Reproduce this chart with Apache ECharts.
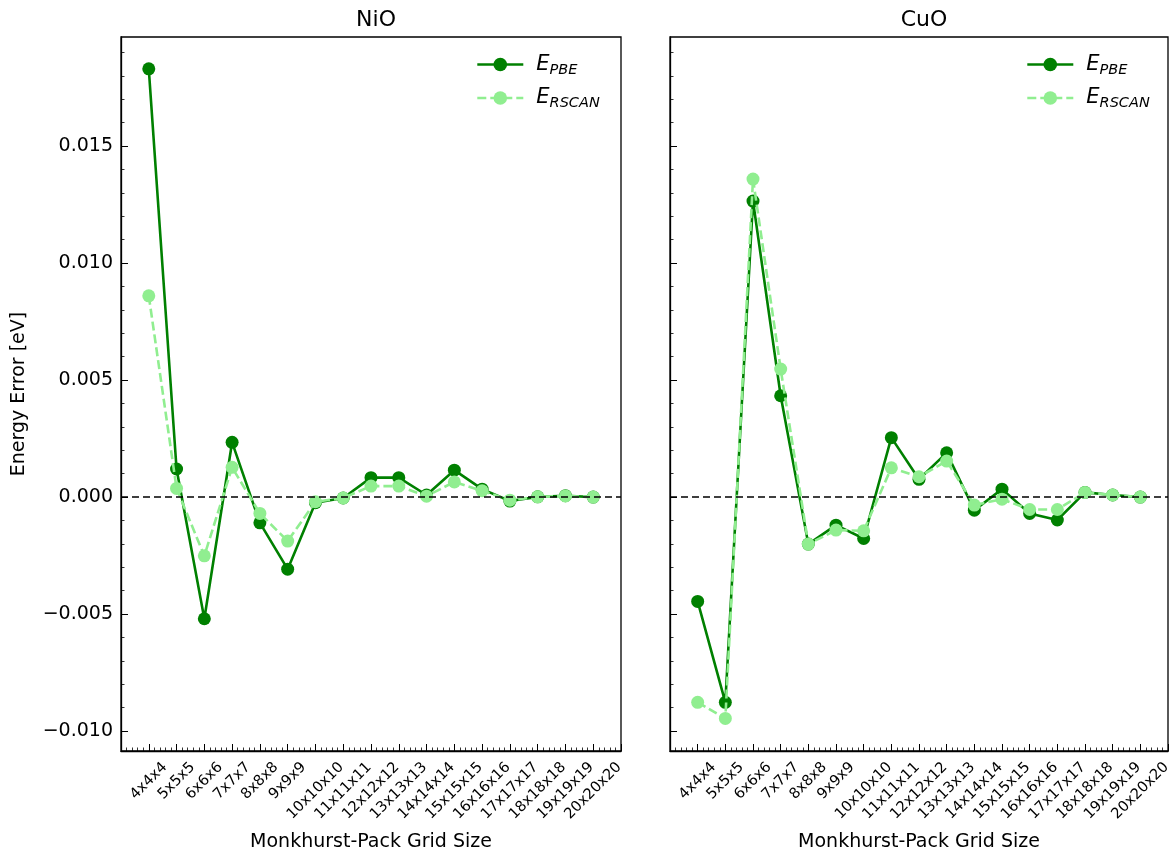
<!DOCTYPE html>
<html>
<head>
<meta charset="utf-8">
<style>
  html, body { margin: 0; padding: 0; background: #fff; }
  #chart { width: 1175px; height: 851px; }
</style>
<script src="https://cdn.jsdelivr.net/npm/echarts@6/dist/echarts.min.js"></script>
</head>
<body>
<div id="chart"></div>
<script>
// k-point grids on the x axis
const grids = ['4x4x4', '5x5x5', '6x6x6', '7x7x7', '8x8x8', '9x9x9', '10x10x10',
  '11x11x11', '12x12x12', '13x13x13', '14x14x14', '15x15x15', '16x16x16',
  '17x17x17', '18x18x18', '19x19x19', '20x20x20'];

// Energy error relative to the 20x20x20 grid [eV]
const nioPBE = [0.0183, 0.0012, -0.0052, 0.00234, -0.0011, -0.00308, -0.00024, -0.00004,
  0.00083, 0.00083, 0.00009, 0.00115, 0.00034, -0.00017, 0.00001, 0.00006, 0.0];
const nioRSCAN = [0.0086, 0.00037, -0.00251, 0.00127, -0.0007, -0.00188, -0.0002, -0.00004,
  0.00047, 0.00047, 0.00004, 0.00065, 0.00027, -0.00013, 0.00001, 0.00005, 0.0];
const cuoPBE = [-0.00446, -0.00877, 0.01265, 0.00433, -0.00201, -0.0012, -0.00177, 0.00254,
  0.00076, 0.00189, -0.00056, 0.00034, -0.0007, -0.00098, 0.0002, 0.00009, 0.0];
const cuoRSCAN = [-0.00877, -0.00946, 0.01359, 0.00547, -0.00201, -0.00141, -0.00144, 0.00125,
  0.00087, 0.00154, -0.00034, -0.00009, -0.00053, -0.00053, 0.0002, 0.00009, 0.0];

const yMajorTicks = [-0.010, -0.005, 0.000, 0.005, 0.010, 0.015];
const yMinorTicks = [-0.010, -0.009, -0.008, -0.007, -0.006, -0.005, -0.004, -0.003, -0.002, -0.001,
  0.000, 0.001, 0.002, 0.003, 0.004, 0.005, 0.006, 0.007, 0.008, 0.009, 0.010,
  0.011, 0.012, 0.013, 0.014, 0.015, 0.016, 0.017, 0.018, 0.019];

const FONT = 'DejaVu Sans';
const DARK = '#008000';
const LIGHT = '#90ee90';
const Y_MIN = -0.01085, Y_MAX = 0.01966;

const pairs = vals => vals.map((v, i) => [i, v]);
const fmtY = v => {
  const s = Math.abs(v).toFixed(3);
  return v < -1e-9 ? '\u2212' + s : s;
};

const gridRects = [
  { left: 121, top: 37, width: 500, height: 714 },
  { left: 670, top: 37, width: 498, height: 714 }
];

// Rotated tick labels are centred under their tick; the longer labels
// sit a little lower so that every label's upper end lines up.
const xLabelRich = {
  s: { fontFamily: FONT, fontSize: 14.7, color: '#000' },
  l: { fontFamily: FONT, fontSize: 14.7, color: '#000', padding: [14, 14, 0, 0] }
};

function xAxisFor(gi) {
  return {
    type: 'value', gridIndex: gi, min: -1, max: 17, interval: 1,
    name: 'Monkhurst-Pack Grid Size', nameLocation: 'middle', nameGap: 82,
    nameTextStyle: { fontFamily: FONT, fontSize: 19, color: '#000' },
    axisLine: { show: true, onZero: false, lineStyle: { color: '#000', width: 1.3 } },
    axisTick: { show: true, inside: true, length: 7, lineStyle: { color: '#000', width: 1 } },
    minorTick: { show: true, splitNumber: 5, length: 3.5, lineStyle: { color: '#000', width: 0.8 } },
    splitLine: { show: false },
    axisLabel: {
      rotate: 45, margin: 30, align: 'center', verticalAlign: 'middle',
      rich: xLabelRich,
      formatter: v => {
        const t = grids[v];
        if (!t) return '';
        return (t.length > 5 ? '{l|' : '{s|') + t + '}';
      }
    }
  };
}

function yAxesFor(gi, withLabels) {
  const major = {
    type: 'value', gridIndex: gi, min: Y_MIN, max: Y_MAX, position: 'left',
    axisLine: { show: true, onZero: false, lineStyle: { color: '#000', width: 1.3 } },
    axisTick: { show: true, inside: true, length: 7, customValues: yMajorTicks,
      lineStyle: { color: '#000', width: 1 } },
    splitLine: { show: false },
    axisLabel: { show: withLabels, customValues: yMajorTicks, margin: 8,
      fontFamily: FONT, fontSize: 19, color: '#000', formatter: fmtY }
  };
  if (withLabels) {
    major.name = 'Energy Error [eV]';
    major.nameLocation = 'middle';
    major.nameGap = 92;
    major.nameTextStyle = { fontFamily: FONT, fontSize: 19, color: '#000' };
  }
  const minor = {
    type: 'value', gridIndex: gi, min: Y_MIN, max: Y_MAX, position: 'left',
    axisLine: { show: false, onZero: false },
    axisTick: { show: true, inside: true, length: 3.5, customValues: yMinorTicks,
      lineStyle: { color: '#000', width: 0.8 } },
    splitLine: { show: false },
    axisLabel: { show: false }
  };
  return [major, minor];
}

function seriesFor(gi, pbe, rscan) {
  return [
    {
      name: 'PBE', type: 'line', xAxisIndex: gi, yAxisIndex: gi * 2,
      data: pairs(pbe), symbol: 'circle', symbolSize: 13,
      itemStyle: { color: DARK }, lineStyle: { color: DARK, width: 2.6 },
      emphasis: { disabled: true }, z: 2
    },
    {
      name: 'RSCAN', type: 'line', xAxisIndex: gi, yAxisIndex: gi * 2,
      data: pairs(rscan), symbol: 'circle', symbolSize: 13,
      itemStyle: { color: LIGHT }, lineStyle: { color: LIGHT, width: 2.6, type: [9, 4] },
      emphasis: { disabled: true }, z: 3,
      markLine: {
        silent: true, symbol: 'none', label: { show: false }, z: 10,
        lineStyle: { color: '#000', width: 1.7, type: [7, 4] },
        data: [{ yAxis: 0 }]
      }
    }
  ];
}

const legendRich = {
  e: { fontFamily: FONT, fontStyle: 'italic', fontSize: 21, color: '#000', padding: [0, 0, 0, 8] },
  s: { fontFamily: FONT, fontStyle: 'italic', fontSize: 14.5, color: '#000', padding: [11, 0, 0, 0] }
};
function legendFor(left) {
  return {
    left: left, top: 49, orient: 'vertical', itemWidth: 46, itemHeight: 17, itemGap: 10,
    data: ['PBE', 'RSCAN'], selectedMode: false,
    lineStyle: { width: 2.6 },
    formatter: n => '{e|E}{s|' + n + '}',
    textStyle: { rich: legendRich }
  };
}

const chart = echarts.init(document.getElementById('chart'), null, { renderer: 'canvas' });
chart.setOption({
  backgroundColor: '#fff',
  animation: false,
  title: [
    { text: 'NiO', left: 371, top: 4, textAlign: 'center',
      textStyle: { fontFamily: FONT, fontSize: 22, fontWeight: 'normal', color: '#000' } },
    { text: 'CuO', left: 919, top: 4, textAlign: 'center',
      textStyle: { fontFamily: FONT, fontSize: 22, fontWeight: 'normal', color: '#000' } }
  ],
  legend: [legendFor(471), legendFor(1021)],
  grid: gridRects.map(r => Object.assign({ show: true, borderColor: '#000', borderWidth: 1.3,
    backgroundColor: 'transparent', containLabel: false, outerBoundsMode: 'none' }, r)),
  xAxis: [xAxisFor(0), xAxisFor(1)],
  yAxis: [...yAxesFor(0, true), ...yAxesFor(1, false)],
  series: [...seriesFor(0, nioPBE, nioRSCAN), ...seriesFor(1, cuoPBE, cuoRSCAN)]
});
</script>
</body>
</html>
